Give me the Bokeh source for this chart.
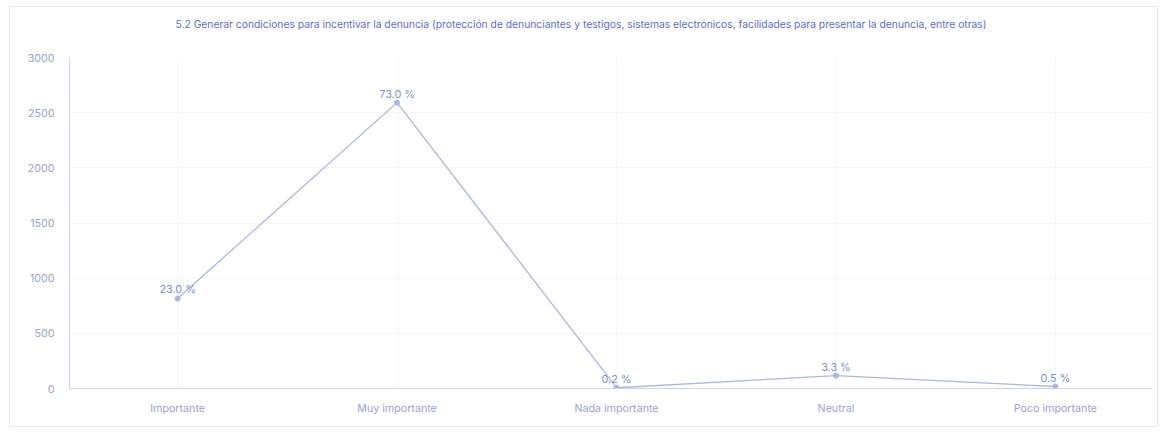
from bokeh.plotting import figure
from bokeh.models import ColumnDataSource, FixedTicker, Range1d, Title, LabelSet
from bokeh.core.properties import value
from bokeh.embed import file_html
from bokeh.resources import INLINE

title_text = "5.2 Generar condiciones para incentivar la denuncia (protección de denunciantes y testigos, sistemas electrónicos, facilidades para presentar la denuncia, entre otras)"
categories = ["Importante", "Muy importante", "Nada importante", "Neutral", "Poco importante"]
counts = [816, 2591, 7, 117, 18]
pct_labels = ["23.0 %", "73.0 %", "0.2 %", "3.3 %", "0.5 %"]
y_ticks = [0, 500, 1000, 1500, 2000, 2500, 3000]

FONT = "Inter"
LINE_C = "#aab5e6"
TEXT_C = "#7d8fd6"
TICK_C = "#97a4d2"

xs = list(range(len(categories)))
src = ColumnDataSource(dict(x=xs, y=counts, lab=pct_labels))

p = figure(width=1149, height=421, output_backend="svg", toolbar_location=None,
           x_range=Range1d(-0.4926, 4.438), y_range=Range1d(0, 3000),
           min_border_left=59, min_border_right=8, min_border_top=50, min_border_bottom=40)
p.styles = {"border": "1px solid #e3e8f5", "margin": "6px 0 0 9px"}
p.outline_line_color = None

# extra blank lines only reserve room so the title sits high above the frame
p.title = Title(text=title_text + "\n \n ", align="left", vertical_align="top", text_font=FONT,
                text_font_size="10.3px", text_font_style="normal", text_color="#5b6fcc",
                offset=106, standoff=4)

p.line("x", "y", source=src, line_color=LINE_C, line_width=1.3)
p.scatter("x", "y", source=src, size=5, fill_color=LINE_C, line_color=LINE_C)
p.add_layout(LabelSet(x="x", y="y", text="lab", source=src, text_align="center",
                      y_offset=2, text_font=value(FONT), text_font_size=value("10.8px"),
                      text_color=TEXT_C))

p.xaxis.ticker = FixedTicker(ticks=xs)
p.xaxis.major_label_overrides = {i: c for i, c in enumerate(categories)}
p.yaxis.ticker = FixedTicker(ticks=y_ticks)
for ax in (p.xaxis, p.yaxis):
    ax.axis_line_color = "#c9d2ee"
    ax.major_tick_line_color = None
    ax.minor_tick_line_color = None
    ax.major_label_text_color = TICK_C
    ax.major_label_text_font = FONT
    ax.major_label_text_font_size = "10.7px"
p.xaxis.major_label_standoff = 7
p.yaxis.major_label_standoff = 9
p.xgrid.grid_line_color = "#f3f5fb"
p.ygrid.grid_line_color = "#f3f5fb"
p.xgrid.ticker = FixedTicker(ticks=xs)
p.ygrid.ticker = FixedTicker(ticks=y_ticks)

open("out.html", "w").write(file_html(p, INLINE))
